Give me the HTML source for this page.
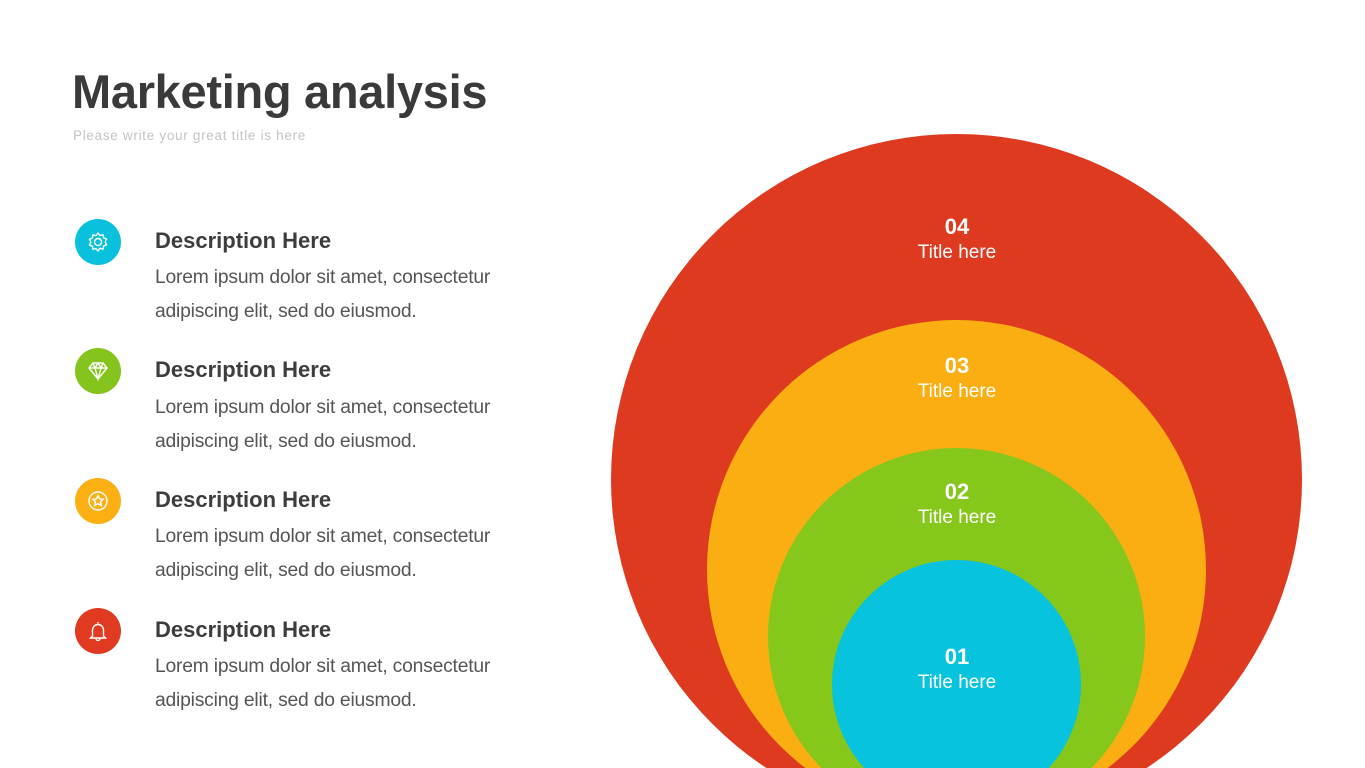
<!DOCTYPE html>
<html><head><meta charset="utf-8"><style>
html,body{margin:0;width:1365px;height:768px;overflow:hidden}
body{background:#fff;font-family:"Liberation Sans",sans-serif;position:relative}
.t{position:absolute;left:72px;top:64px;font-size:47px;font-weight:bold;color:#3a3a3a;letter-spacing:-0.3px}
.s{position:absolute;left:73px;top:128px;font-size:13.5px;color:#c4c4c4;letter-spacing:0.7px}
.ic{position:absolute;left:75px;width:46px;height:46px;border-radius:50%}
.ic svg{position:absolute;left:11px;top:11px}
.h{position:absolute;left:155px;font-size:22px;font-weight:bold;color:#3d3d3d}
.b{position:absolute;left:155px;font-size:19.3px;color:#555;line-height:34px;letter-spacing:-0.2px}
.lab{position:absolute;width:200px;text-align:center;color:#fff;left:857px}
.lab b{display:block;font-size:22px}
.lab span{display:block;font-size:19px;margin-top:2px}
</style></head><body>
<div class="t">Marketing analysis</div>
<div class="s">Please write your great title is here</div>

<div class="ic" style="top:219px;background:#09c1dd"><svg width="24" height="24" viewBox="0 0 24 24" fill="none" stroke="#fff" stroke-width="1.4"><circle cx="12" cy="12" r="3.5"/><path d="M12 3l2 2.5 3-.8.6 3 2.9 1.3-1.3 2.9 1.3 2.9-2.9 1.3-.6 3-3-.8L12 21l-2-2.5-3 .8-.6-3-2.9-1.3 1.3-2.9L3.5 9.2l2.9-1.3.6-3 3 .8z"/></svg></div>
<div class="h" style="top:228px">Description Here</div>
<div class="b" style="top:261px">Lorem ipsum dolor sit amet, consectetur<br>adipiscing elit, sed do eiusmod.</div>

<div class="ic" style="top:348px;background:#84c41c"><svg width="24" height="24" viewBox="0 0 24 24" fill="none" stroke="#fff" stroke-width="1.4"><path d="M3 9l4-5h10l4 5-9 11z M3 9h18 M9 9l3 11 3-11 M7 4l2 5 3-5 3 5 2-5"/></svg></div>
<div class="h" style="top:357px">Description Here</div>
<div class="b" style="top:391px">Lorem ipsum dolor sit amet, consectetur<br>adipiscing elit, sed do eiusmod.</div>

<div class="ic" style="top:478px;background:#fbaf12"><svg width="24" height="24" viewBox="0 0 24 24" fill="none" stroke="#fff" stroke-width="1.4"><circle cx="12" cy="12" r="9"/><path d="M12 6.5l1.6 3.4 3.7.4-2.8 2.5.8 3.7-3.3-1.9-3.3 1.9.8-3.7-2.8-2.5 3.7-.4z"/></svg></div>
<div class="h" style="top:487px">Description Here</div>
<div class="b" style="top:520px">Lorem ipsum dolor sit amet, consectetur<br>adipiscing elit, sed do eiusmod.</div>

<div class="ic" style="top:608px;background:#e03a20"><svg width="24" height="24" viewBox="0 0 24 24" fill="none" stroke="#fff" stroke-width="1.4"><path d="M12 3v1.5M6.5 17V11a5.5 5.5 0 0111 0v6l2 2h-15z M10 19.5a2 2 0 004 0"/></svg></div>
<div class="h" style="top:617px">Description Here</div>
<div class="b" style="top:650px">Lorem ipsum dolor sit amet, consectetur<br>adipiscing elit, sed do eiusmod.</div>

<svg style="position:absolute;left:0;top:0" width="1365" height="768" viewBox="0 0 1365 768">
<circle cx="956.5" cy="479.5" r="345.5" fill="#de3a1f"/>
<circle cx="956.5" cy="569.5" r="249.5" fill="#fbae12"/>
<circle cx="956.5" cy="636.5" r="188.5" fill="#85c71b"/>
<circle cx="956.5" cy="684.5" r="124.5" fill="#08c3dd"/>
</svg>
<div class="lab" style="top:214px"><b>04</b><span>Title here</span></div>
<div class="lab" style="top:353px"><b>03</b><span>Title here</span></div>
<div class="lab" style="top:479px"><b>02</b><span>Title here</span></div>
<div class="lab" style="top:644px"><b>01</b><span>Title here</span></div>
</body></html>
